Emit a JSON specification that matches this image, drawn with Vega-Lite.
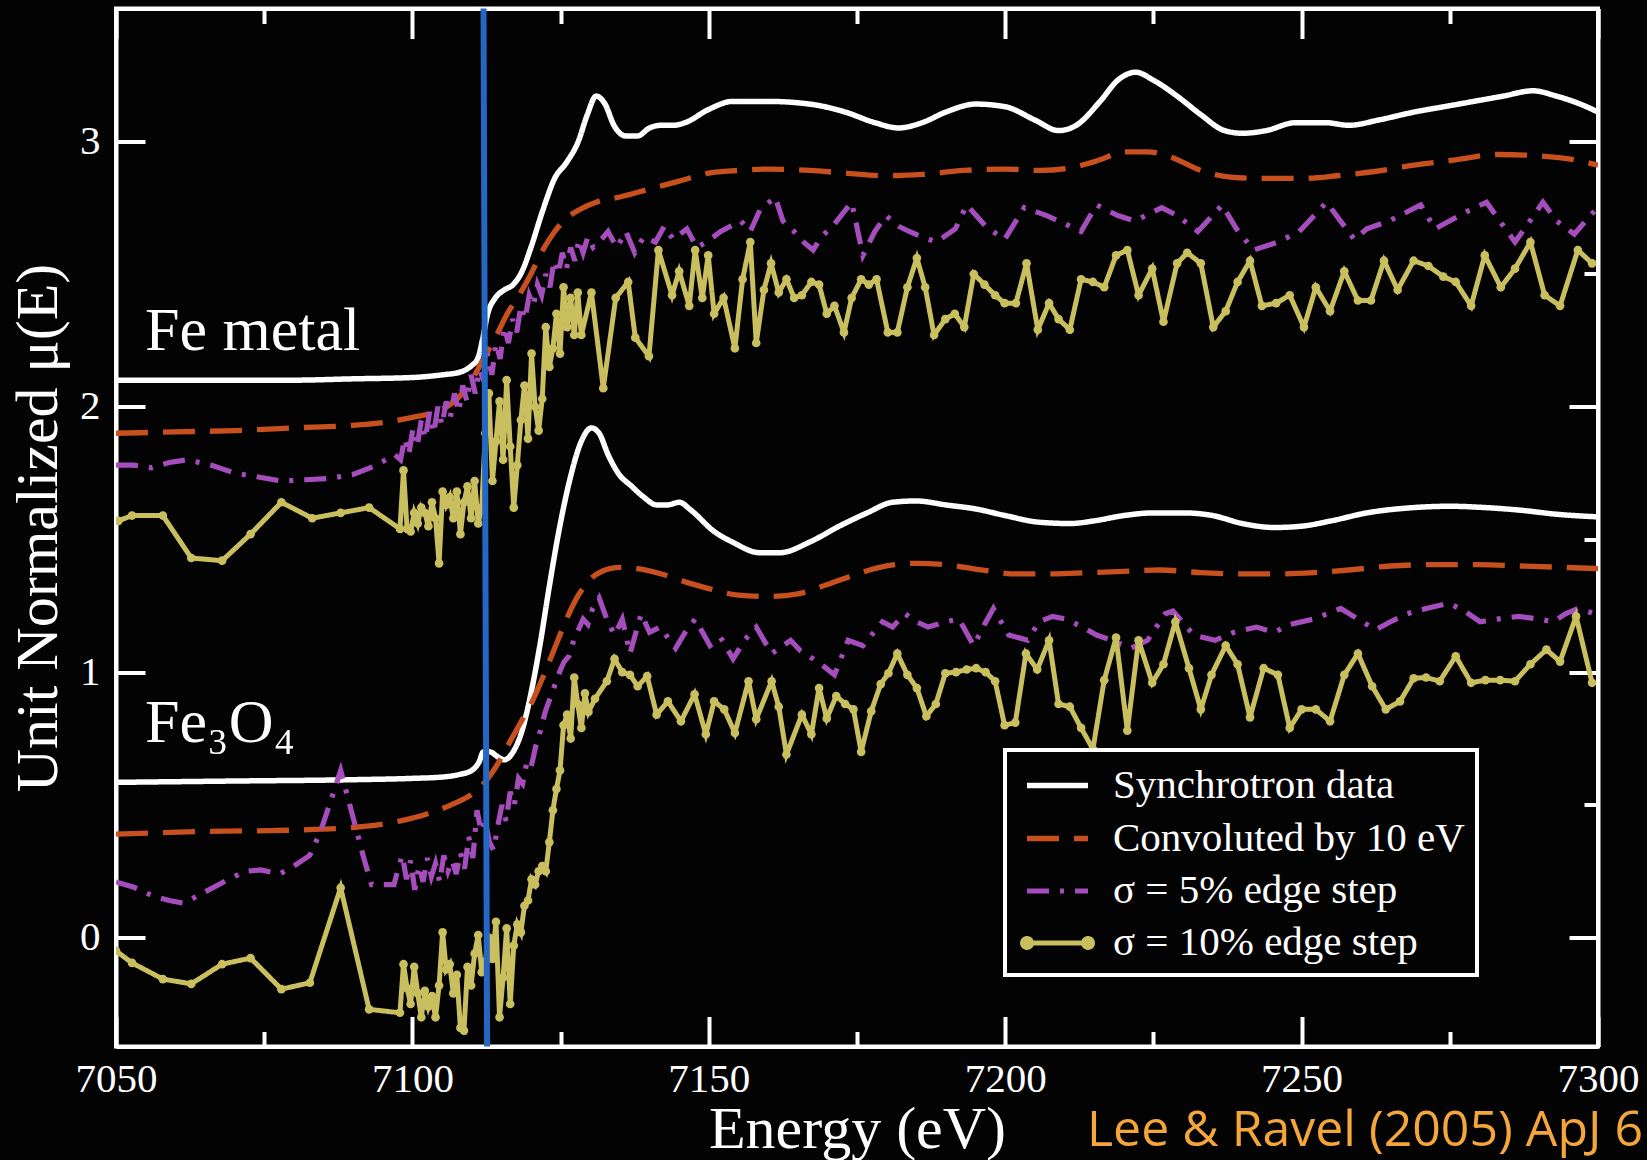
{
"$schema":"https://vega.github.io/schema/vega-lite/v6.json",
"width":1482,"height":1038,
"autosize":{"type":"none"},
"padding":{"left":116,"top":8.5,"right":49,"bottom":113.5},
"background":"#030303",
"title":{"text":"Lee & Ravel (2005) ApJ 6","orient":"bottom","anchor":"end","frame":"group","font":"Open Sans","fontSize":50,"fontWeight":"normal","color":"#f4a63b","baseline":"alphabetic","offset":0,"dx":45,"dy":-14},
"config":{
"view":{"stroke":"#ffffff","strokeWidth":4,"fill":"#030303"},
"axis":{"grid":false,"domainColor":"#ffffff","domainWidth":4,"tickColor":"#ffffff","tickWidth":4,"labelColor":"#ffffff","labelFont":"Liberation Serif","labelFontSize":41,"titleColor":"#ffffff","titleFont":"Liberation Serif","titleFontSize":60,"titleFontWeight":"normal"}
},
"datasets":{
"lab":[{"t":"Fe metal","E":7054.9,"mu":2.213},{"t":"Fe₃O₄","E":7054.9,"mu":0.738}],
"edge":[{"E":7112.0,"E2":7112.6,"y":3.5,"y2":-0.41}],
"c":[
{"g":"m","s":"A","E":7050,"mu":2.10},{"g":"m","s":"A","E":7060,"mu":2.10},{"g":"m","s":"A","E":7070,"mu":2.10},{"g":"m","s":"A","E":7080,"mu":2.10},{"g":"m","s":"A","E":7090,"mu":2.105},{"g":"m","s":"A","E":7100,"mu":2.11},{"g":"m","s":"A","E":7105,"mu":2.12},{"g":"m","s":"A","E":7108,"mu":2.13},{"g":"m","s":"A","E":7110,"mu":2.155},{"g":"m","s":"A","E":7111,"mu":2.18},{"g":"m","s":"A","E":7111.8,"mu":2.25},{"g":"m","s":"A","E":7112.7,"mu":2.35},{"g":"m","s":"A","E":7114,"mu":2.41},{"g":"m","s":"A","E":7115.5,"mu":2.44},{"g":"m","s":"A","E":7117,"mu":2.46},{"g":"m","s":"A","E":7118.5,"mu":2.51},{"g":"m","s":"A","E":7120,"mu":2.60},{"g":"m","s":"A","E":7122,"mu":2.74},{"g":"m","s":"A","E":7124,"mu":2.86},{"g":"m","s":"A","E":7126,"mu":2.92},{"g":"m","s":"A","E":7128,"mu":3.0},{"g":"m","s":"A","E":7129.5,"mu":3.10},{"g":"m","s":"A","E":7131,"mu":3.17},{"g":"m","s":"A","E":7132.5,"mu":3.14},{"g":"m","s":"A","E":7134,"mu":3.06},{"g":"m","s":"A","E":7136,"mu":3.02},{"g":"m","s":"A","E":7138,"mu":3.02},{"g":"m","s":"A","E":7140,"mu":3.05},{"g":"m","s":"A","E":7142,"mu":3.06},{"g":"m","s":"A","E":7144,"mu":3.06},{"g":"m","s":"A","E":7146,"mu":3.07},{"g":"m","s":"A","E":7150,"mu":3.12},{"g":"m","s":"A","E":7154,"mu":3.15},{"g":"m","s":"A","E":7160,"mu":3.15},{"g":"m","s":"A","E":7167,"mu":3.14},{"g":"m","s":"A","E":7173,"mu":3.11},{"g":"m","s":"A","E":7178,"mu":3.07},{"g":"m","s":"A","E":7182,"mu":3.05},{"g":"m","s":"A","E":7186,"mu":3.07},{"g":"m","s":"A","E":7190,"mu":3.11},{"g":"m","s":"A","E":7195,"mu":3.14},{"g":"m","s":"A","E":7200,"mu":3.13},{"g":"m","s":"A","E":7205,"mu":3.08},{"g":"m","s":"A","E":7209,"mu":3.04},{"g":"m","s":"A","E":7212,"mu":3.06},{"g":"m","s":"A","E":7216,"mu":3.15},{"g":"m","s":"A","E":7219,"mu":3.23},{"g":"m","s":"A","E":7222,"mu":3.26},{"g":"m","s":"A","E":7225,"mu":3.23},{"g":"m","s":"A","E":7229,"mu":3.17},{"g":"m","s":"A","E":7233,"mu":3.10},{"g":"m","s":"A","E":7237,"mu":3.04},{"g":"m","s":"A","E":7240,"mu":3.03},{"g":"m","s":"A","E":7244,"mu":3.04},{"g":"m","s":"A","E":7249,"mu":3.07},{"g":"m","s":"A","E":7254,"mu":3.07},{"g":"m","s":"A","E":7258,"mu":3.06},{"g":"m","s":"A","E":7263,"mu":3.08},{"g":"m","s":"A","E":7269,"mu":3.11},{"g":"m","s":"A","E":7274,"mu":3.13},{"g":"m","s":"A","E":7279,"mu":3.15},{"g":"m","s":"A","E":7284,"mu":3.17},{"g":"m","s":"A","E":7289,"mu":3.19},{"g":"m","s":"A","E":7293,"mu":3.17},{"g":"m","s":"A","E":7297,"mu":3.14},{"g":"m","s":"A","E":7300,"mu":3.11},
{"g":"m","s":"B","E":7050,"mu":1.90},{"g":"m","s":"B","E":7060,"mu":1.905},{"g":"m","s":"B","E":7070,"mu":1.91},{"g":"m","s":"B","E":7080,"mu":1.92},{"g":"m","s":"B","E":7090,"mu":1.93},{"g":"m","s":"B","E":7095,"mu":1.94},{"g":"m","s":"B","E":7100,"mu":1.96},{"g":"m","s":"B","E":7105,"mu":1.99},{"g":"m","s":"B","E":7108,"mu":2.04},{"g":"m","s":"B","E":7110,"mu":2.10},{"g":"m","s":"B","E":7112,"mu":2.18},{"g":"m","s":"B","E":7114,"mu":2.26},{"g":"m","s":"B","E":7116,"mu":2.35},{"g":"m","s":"B","E":7118,"mu":2.42},{"g":"m","s":"B","E":7120,"mu":2.50},{"g":"m","s":"B","E":7122,"mu":2.59},{"g":"m","s":"B","E":7124,"mu":2.66},{"g":"m","s":"B","E":7126,"mu":2.71},{"g":"m","s":"B","E":7128,"mu":2.74},{"g":"m","s":"B","E":7131,"mu":2.77},{"g":"m","s":"B","E":7135,"mu":2.79},{"g":"m","s":"B","E":7140,"mu":2.82},{"g":"m","s":"B","E":7145,"mu":2.85},{"g":"m","s":"B","E":7150,"mu":2.88},{"g":"m","s":"B","E":7155,"mu":2.89},{"g":"m","s":"B","E":7160,"mu":2.895},{"g":"m","s":"B","E":7167,"mu":2.89},{"g":"m","s":"B","E":7173,"mu":2.88},{"g":"m","s":"B","E":7180,"mu":2.87},{"g":"m","s":"B","E":7186,"mu":2.875},{"g":"m","s":"B","E":7193,"mu":2.89},{"g":"m","s":"B","E":7200,"mu":2.895},{"g":"m","s":"B","E":7206,"mu":2.89},{"g":"m","s":"B","E":7211,"mu":2.90},{"g":"m","s":"B","E":7216,"mu":2.93},{"g":"m","s":"B","E":7220,"mu":2.96},{"g":"m","s":"B","E":7224,"mu":2.96},{"g":"m","s":"B","E":7228,"mu":2.94},{"g":"m","s":"B","E":7233,"mu":2.89},{"g":"m","s":"B","E":7238,"mu":2.865},{"g":"m","s":"B","E":7243,"mu":2.86},{"g":"m","s":"B","E":7250,"mu":2.86},{"g":"m","s":"B","E":7256,"mu":2.87},{"g":"m","s":"B","E":7262,"mu":2.885},{"g":"m","s":"B","E":7269,"mu":2.91},{"g":"m","s":"B","E":7276,"mu":2.93},{"g":"m","s":"B","E":7283,"mu":2.95},{"g":"m","s":"B","E":7290,"mu":2.945},{"g":"m","s":"B","E":7296,"mu":2.93},{"g":"m","s":"B","E":7300,"mu":2.91},
{"g":"o","s":"A","E":7050,"mu":0.585},{"g":"o","s":"A","E":7070,"mu":0.59},{"g":"o","s":"A","E":7090,"mu":0.595},{"g":"o","s":"A","E":7100,"mu":0.60},{"g":"o","s":"A","E":7105,"mu":0.605},{"g":"o","s":"A","E":7108,"mu":0.615},{"g":"o","s":"A","E":7110,"mu":0.63},{"g":"o","s":"A","E":7111.2,"mu":0.66},{"g":"o","s":"A","E":7112,"mu":0.70},{"g":"o","s":"A","E":7113,"mu":0.70},{"g":"o","s":"A","E":7114.5,"mu":0.68},{"g":"o","s":"A","E":7115.5,"mu":0.67},{"g":"o","s":"A","E":7117,"mu":0.70},{"g":"o","s":"A","E":7118.5,"mu":0.78},{"g":"o","s":"A","E":7120,"mu":0.92},{"g":"o","s":"A","E":7121.5,"mu":1.10},{"g":"o","s":"A","E":7123,"mu":1.31},{"g":"o","s":"A","E":7124.7,"mu":1.53},{"g":"o","s":"A","E":7126.5,"mu":1.72},{"g":"o","s":"A","E":7128.5,"mu":1.87},{"g":"o","s":"A","E":7130.2,"mu":1.92},{"g":"o","s":"A","E":7131.5,"mu":1.90},{"g":"o","s":"A","E":7133,"mu":1.82},{"g":"o","s":"A","E":7134.7,"mu":1.75},{"g":"o","s":"A","E":7137,"mu":1.70},{"g":"o","s":"A","E":7139,"mu":1.66},{"g":"o","s":"A","E":7141.2,"mu":1.63},{"g":"o","s":"A","E":7143,"mu":1.63},{"g":"o","s":"A","E":7145,"mu":1.64},{"g":"o","s":"A","E":7147,"mu":1.61},{"g":"o","s":"A","E":7150.9,"mu":1.53},{"g":"o","s":"A","E":7154,"mu":1.49},{"g":"o","s":"A","E":7158.6,"mu":1.45},{"g":"o","s":"A","E":7162,"mu":1.45},{"g":"o","s":"A","E":7167,"mu":1.49},{"g":"o","s":"A","E":7172,"mu":1.55},{"g":"o","s":"A","E":7176.7,"mu":1.60},{"g":"o","s":"A","E":7181,"mu":1.64},{"g":"o","s":"A","E":7185,"mu":1.645},{"g":"o","s":"A","E":7190,"mu":1.63},{"g":"o","s":"A","E":7195,"mu":1.615},{"g":"o","s":"A","E":7200,"mu":1.59},{"g":"o","s":"A","E":7205.7,"mu":1.565},{"g":"o","s":"A","E":7211,"mu":1.56},{"g":"o","s":"A","E":7215,"mu":1.57},{"g":"o","s":"A","E":7220,"mu":1.59},{"g":"o","s":"A","E":7225,"mu":1.60},{"g":"o","s":"A","E":7230,"mu":1.60},{"g":"o","s":"A","E":7235,"mu":1.59},{"g":"o","s":"A","E":7240,"mu":1.56},{"g":"o","s":"A","E":7245.4,"mu":1.545},{"g":"o","s":"A","E":7250,"mu":1.55},{"g":"o","s":"A","E":7255,"mu":1.57},{"g":"o","s":"A","E":7261,"mu":1.60},{"g":"o","s":"A","E":7268.9,"mu":1.62},{"g":"o","s":"A","E":7275,"mu":1.625},{"g":"o","s":"A","E":7281,"mu":1.62},{"g":"o","s":"A","E":7287,"mu":1.61},{"g":"o","s":"A","E":7293,"mu":1.595},{"g":"o","s":"A","E":7300,"mu":1.585},
{"g":"o","s":"B","E":7050,"mu":0.39},{"g":"o","s":"B","E":7065,"mu":0.40},{"g":"o","s":"B","E":7080,"mu":0.405},{"g":"o","s":"B","E":7090,"mu":0.415},{"g":"o","s":"B","E":7098,"mu":0.44},{"g":"o","s":"B","E":7103,"mu":0.47},{"g":"o","s":"B","E":7107,"mu":0.505},{"g":"o","s":"B","E":7110,"mu":0.54},{"g":"o","s":"B","E":7112,"mu":0.58},{"g":"o","s":"B","E":7114,"mu":0.64},{"g":"o","s":"B","E":7116,"mu":0.72},{"g":"o","s":"B","E":7118,"mu":0.80},{"g":"o","s":"B","E":7120,"mu":0.88},{"g":"o","s":"B","E":7122,"mu":0.98},{"g":"o","s":"B","E":7124,"mu":1.09},{"g":"o","s":"B","E":7126,"mu":1.20},{"g":"o","s":"B","E":7128,"mu":1.29},{"g":"o","s":"B","E":7130,"mu":1.35},{"g":"o","s":"B","E":7132,"mu":1.38},{"g":"o","s":"B","E":7135,"mu":1.395},{"g":"o","s":"B","E":7138,"mu":1.39},{"g":"o","s":"B","E":7142,"mu":1.37},{"g":"o","s":"B","E":7146,"mu":1.34},{"g":"o","s":"B","E":7150,"mu":1.315},{"g":"o","s":"B","E":7155,"mu":1.29},{"g":"o","s":"B","E":7160,"mu":1.285},{"g":"o","s":"B","E":7165,"mu":1.295},{"g":"o","s":"B","E":7170,"mu":1.33},{"g":"o","s":"B","E":7175,"mu":1.37},{"g":"o","s":"B","E":7180,"mu":1.40},{"g":"o","s":"B","E":7185,"mu":1.41},{"g":"o","s":"B","E":7190,"mu":1.405},{"g":"o","s":"B","E":7196,"mu":1.385},{"g":"o","s":"B","E":7202,"mu":1.37},{"g":"o","s":"B","E":7208,"mu":1.37},{"g":"o","s":"B","E":7214,"mu":1.375},{"g":"o","s":"B","E":7220,"mu":1.38},{"g":"o","s":"B","E":7226,"mu":1.385},{"g":"o","s":"B","E":7233,"mu":1.375},{"g":"o","s":"B","E":7240,"mu":1.37},{"g":"o","s":"B","E":7246,"mu":1.37},{"g":"o","s":"B","E":7252,"mu":1.375},{"g":"o","s":"B","E":7258,"mu":1.385},{"g":"o","s":"B","E":7265,"mu":1.40},{"g":"o","s":"B","E":7272,"mu":1.405},{"g":"o","s":"B","E":7280,"mu":1.405},{"g":"o","s":"B","E":7287,"mu":1.40},{"g":"o","s":"B","E":7294,"mu":1.395},{"g":"o","s":"B","E":7300,"mu":1.39},
{"g":"m","s":"C","E":7050,"mu":1.78},{"g":"m","s":"C","E":7053,"mu":1.78},{"g":"m","s":"C","E":7056,"mu":1.77},{"g":"m","s":"C","E":7059,"mu":1.79},{"g":"m","s":"C","E":7062,"mu":1.80},{"g":"m","s":"C","E":7066,"mu":1.78},{"g":"m","s":"C","E":7070,"mu":1.75},{"g":"m","s":"C","E":7074,"mu":1.735},{"g":"m","s":"C","E":7078,"mu":1.72},{"g":"m","s":"C","E":7082,"mu":1.725},{"g":"m","s":"C","E":7086,"mu":1.73},{"g":"m","s":"C","E":7090,"mu":1.745},{"g":"m","s":"C","E":7094,"mu":1.78},{"g":"m","s":"C","E":7097,"mu":1.82},{"g":"m","s":"C","E":7098,"mu":1.80},{"g":"m","s":"C","E":7098.7,"mu":1.88},{"g":"m","s":"C","E":7099.4,"mu":1.82},{"g":"m","s":"C","E":7100.1,"mu":1.92},{"g":"m","s":"C","E":7100.8,"mu":1.85},{"g":"m","s":"C","E":7101.5,"mu":1.95},{"g":"m","s":"C","E":7102.2,"mu":1.88},{"g":"m","s":"C","E":7102.9,"mu":1.98},{"g":"m","s":"C","E":7103.6,"mu":1.90},{"g":"m","s":"C","E":7104.3,"mu":2.00},{"g":"m","s":"C","E":7105,"mu":1.93},{"g":"m","s":"C","E":7105.7,"mu":2.02},{"g":"m","s":"C","E":7106.4,"mu":1.96},{"g":"m","s":"C","E":7107.1,"mu":2.05},{"g":"m","s":"C","E":7107.8,"mu":1.98},{"g":"m","s":"C","E":7108.5,"mu":2.08},{"g":"m","s":"C","E":7109.2,"mu":2.02},{"g":"m","s":"C","E":7109.9,"mu":2.12},{"g":"m","s":"C","E":7110.6,"mu":2.05},{"g":"m","s":"C","E":7111.3,"mu":2.14},{"g":"m","s":"C","E":7112,"mu":2.10},{"g":"m","s":"C","E":7112.7,"mu":2.20},{"g":"m","s":"C","E":7113.4,"mu":2.12},{"g":"m","s":"C","E":7114.1,"mu":2.24},{"g":"m","s":"C","E":7114.8,"mu":2.18},{"g":"m","s":"C","E":7115.5,"mu":2.30},{"g":"m","s":"C","E":7116.2,"mu":2.24},{"g":"m","s":"C","E":7116.9,"mu":2.33},{"g":"m","s":"C","E":7117.6,"mu":2.28},{"g":"m","s":"C","E":7118.3,"mu":2.38},{"g":"m","s":"C","E":7119,"mu":2.33},{"g":"m","s":"C","E":7119.7,"mu":2.42},{"g":"m","s":"C","E":7120.4,"mu":2.38},{"g":"m","s":"C","E":7121.1,"mu":2.46},{"g":"m","s":"C","E":7121.8,"mu":2.42},{"g":"m","s":"C","E":7122.5,"mu":2.50},{"g":"m","s":"C","E":7123.2,"mu":2.45},{"g":"m","s":"C","E":7123.9,"mu":2.55},{"g":"m","s":"C","E":7124.6,"mu":2.50},{"g":"m","s":"C","E":7125.3,"mu":2.58},{"g":"m","s":"C","E":7126,"mu":2.52},{"g":"m","s":"C","E":7126.7,"mu":2.60},{"g":"m","s":"C","E":7127.4,"mu":2.55},{"g":"m","s":"C","E":7128.1,"mu":2.63},{"g":"m","s":"C","E":7128.8,"mu":2.58},{"g":"m","s":"C","E":7129.6,"mu":2.64},{"g":"m","s":"C","E":7130.5,"mu":2.60},{"g":"m","s":"C","E":7131.5,"mu":2.62},{"g":"m","s":"C","E":7133,"mu":2.66},{"g":"m","s":"C","E":7134.5,"mu":2.60},{"g":"m","s":"C","E":7136,"mu":2.66},{"g":"m","s":"C","E":7137.5,"mu":2.58},{"g":"m","s":"C","E":7139,"mu":2.64},{"g":"m","s":"C","E":7141,"mu":2.62},{"g":"m","s":"C","E":7142.5,"mu":2.68},{"g":"m","s":"C","E":7144,"mu":2.63},{"g":"m","s":"C","E":7146.3,"mu":2.67},{"g":"m","s":"C","E":7148,"mu":2.60},{"g":"m","s":"C","E":7149.6,"mu":2.62},{"g":"m","s":"C","E":7152,"mu":2.66},{"g":"m","s":"C","E":7155.4,"mu":2.70},{"g":"m","s":"C","E":7157,"mu":2.66},{"g":"m","s":"C","E":7158.6,"mu":2.74},{"g":"m","s":"C","E":7161.2,"mu":2.79},{"g":"m","s":"C","E":7162.5,"mu":2.70},{"g":"m","s":"C","E":7164.4,"mu":2.66},{"g":"m","s":"C","E":7166,"mu":2.62},{"g":"m","s":"C","E":7167.6,"mu":2.59},{"g":"m","s":"C","E":7169,"mu":2.64},{"g":"m","s":"C","E":7170.9,"mu":2.68},{"g":"m","s":"C","E":7174.1,"mu":2.77},{"g":"m","s":"C","E":7176,"mu":2.57},{"g":"m","s":"C","E":7178,"mu":2.66},{"g":"m","s":"C","E":7179.9,"mu":2.72},{"g":"m","s":"C","E":7182,"mu":2.68},{"g":"m","s":"C","E":7183.8,"mu":2.66},{"g":"m","s":"C","E":7186,"mu":2.64},{"g":"m","s":"C","E":7188.4,"mu":2.62},{"g":"m","s":"C","E":7191.6,"mu":2.67},{"g":"m","s":"C","E":7193.5,"mu":2.76},{"g":"m","s":"C","E":7196.7,"mu":2.68},{"g":"m","s":"C","E":7199.9,"mu":2.63},{"g":"m","s":"C","E":7203.2,"mu":2.75},{"g":"m","s":"C","E":7207,"mu":2.72},{"g":"m","s":"C","E":7210,"mu":2.69},{"g":"m","s":"C","E":7212.8,"mu":2.66},{"g":"m","s":"C","E":7215.4,"mu":2.76},{"g":"m","s":"C","E":7219,"mu":2.72},{"g":"m","s":"C","E":7221.9,"mu":2.70},{"g":"m","s":"C","E":7226.4,"mu":2.75},{"g":"m","s":"C","E":7229,"mu":2.72},{"g":"m","s":"C","E":7232.5,"mu":2.66},{"g":"m","s":"C","E":7236.6,"mu":2.76},{"g":"m","s":"C","E":7239,"mu":2.67},{"g":"m","s":"C","E":7241.9,"mu":2.59},{"g":"m","s":"C","E":7246,"mu":2.62},{"g":"m","s":"C","E":7249.6,"mu":2.66},{"g":"m","s":"C","E":7254.2,"mu":2.77},{"g":"m","s":"C","E":7258.9,"mu":2.63},{"g":"m","s":"C","E":7261,"mu":2.67},{"g":"m","s":"C","E":7264.8,"mu":2.70},{"g":"m","s":"C","E":7270.1,"mu":2.76},{"g":"m","s":"C","E":7272.5,"mu":2.67},{"g":"m","s":"C","E":7278.3,"mu":2.74},{"g":"m","s":"C","E":7281.2,"mu":2.77},{"g":"m","s":"C","E":7286,"mu":2.62},{"g":"m","s":"C","E":7290.7,"mu":2.77},{"g":"m","s":"C","E":7293,"mu":2.70},{"g":"m","s":"C","E":7296,"mu":2.65},{"g":"m","s":"C","E":7299.5,"mu":2.74},
{"g":"o","s":"C","E":7050,"mu":0.21},{"g":"o","s":"C","E":7053,"mu":0.19},{"g":"o","s":"C","E":7056.3,"mu":0.156},{"g":"o","s":"C","E":7059,"mu":0.14},{"g":"o","s":"C","E":7061.4,"mu":0.13},{"g":"o","s":"C","E":7064,"mu":0.16},{"g":"o","s":"C","E":7066.5,"mu":0.19},{"g":"o","s":"C","E":7069,"mu":0.22},{"g":"o","s":"C","E":7071.8,"mu":0.25},{"g":"o","s":"C","E":7074.5,"mu":0.255},{"g":"o","s":"C","E":7077.6,"mu":0.24},{"g":"o","s":"C","E":7080,"mu":0.27},{"g":"o","s":"C","E":7082.7,"mu":0.31},{"g":"o","s":"C","E":7084.5,"mu":0.40},{"g":"o","s":"C","E":7086.6,"mu":0.54},{"g":"o","s":"C","E":7087.9,"mu":0.63},{"g":"o","s":"C","E":7089.2,"mu":0.52},{"g":"o","s":"C","E":7090.5,"mu":0.41},{"g":"o","s":"C","E":7091.8,"mu":0.30},{"g":"o","s":"C","E":7093.1,"mu":0.20},{"g":"o","s":"C","E":7095,"mu":0.20},{"g":"o","s":"C","E":7096.9,"mu":0.20},{"g":"o","s":"C","E":7097.6,"mu":0.26},{"g":"o","s":"C","E":7098.3,"mu":0.31},{"g":"o","s":"C","E":7099,"mu":0.22},{"g":"o","s":"C","E":7099.7,"mu":0.29},{"g":"o","s":"C","E":7100.4,"mu":0.18},{"g":"o","s":"C","E":7101.1,"mu":0.27},{"g":"o","s":"C","E":7101.8,"mu":0.21},{"g":"o","s":"C","E":7102.5,"mu":0.30},{"g":"o","s":"C","E":7103.2,"mu":0.23},{"g":"o","s":"C","E":7103.9,"mu":0.28},{"g":"o","s":"C","E":7104.6,"mu":0.21},{"g":"o","s":"C","E":7105.3,"mu":0.31},{"g":"o","s":"C","E":7106,"mu":0.25},{"g":"o","s":"C","E":7106.7,"mu":0.29},{"g":"o","s":"C","E":7107.4,"mu":0.24},{"g":"o","s":"C","E":7108.1,"mu":0.32},{"g":"o","s":"C","E":7108.8,"mu":0.26},{"g":"o","s":"C","E":7109.5,"mu":0.38},{"g":"o","s":"C","E":7110.2,"mu":0.30},{"g":"o","s":"C","E":7110.9,"mu":0.48},{"g":"o","s":"C","E":7111.6,"mu":0.40},{"g":"o","s":"C","E":7112.3,"mu":0.44},{"g":"o","s":"C","E":7113,"mu":0.36},{"g":"o","s":"C","E":7113.7,"mu":0.33},{"g":"o","s":"C","E":7114.4,"mu":0.42},{"g":"o","s":"C","E":7115.1,"mu":0.50},{"g":"o","s":"C","E":7115.8,"mu":0.44},{"g":"o","s":"C","E":7116.5,"mu":0.55},{"g":"o","s":"C","E":7117.2,"mu":0.50},{"g":"o","s":"C","E":7117.9,"mu":0.60},{"g":"o","s":"C","E":7118.6,"mu":0.58},{"g":"o","s":"C","E":7119.3,"mu":0.66},{"g":"o","s":"C","E":7120,"mu":0.64},{"g":"o","s":"C","E":7120.8,"mu":0.72},{"g":"o","s":"C","E":7121.6,"mu":0.78},{"g":"o","s":"C","E":7122.4,"mu":0.85},{"g":"o","s":"C","E":7123.2,"mu":0.90},{"g":"o","s":"C","E":7124,"mu":0.95},{"g":"o","s":"C","E":7124.8,"mu":1.00},{"g":"o","s":"C","E":7125.6,"mu":1.04},{"g":"o","s":"C","E":7126.4,"mu":1.06},{"g":"o","s":"C","E":7127.2,"mu":1.12},{"g":"o","s":"C","E":7128,"mu":1.16},{"g":"o","s":"C","E":7128.8,"mu":1.20},{"g":"o","s":"C","E":7129.6,"mu":1.18},{"g":"o","s":"C","E":7130.4,"mu":1.24},{"g":"o","s":"C","E":7131.5,"mu":1.28},{"g":"o","s":"C","E":7132.8,"mu":1.20},{"g":"o","s":"C","E":7134.1,"mu":1.14},{"g":"o","s":"C","E":7135.4,"mu":1.20},{"g":"o","s":"C","E":7136.7,"mu":1.07},{"g":"o","s":"C","E":7138.6,"mu":1.22},{"g":"o","s":"C","E":7140,"mu":1.15},{"g":"o","s":"C","E":7141.8,"mu":1.17},{"g":"o","s":"C","E":7144.4,"mu":1.09},{"g":"o","s":"C","E":7146,"mu":1.15},{"g":"o","s":"C","E":7147.7,"mu":1.20},{"g":"o","s":"C","E":7150.2,"mu":1.10},{"g":"o","s":"C","E":7152,"mu":1.13},{"g":"o","s":"C","E":7154.1,"mu":1.05},{"g":"o","s":"C","E":7156,"mu":1.12},{"g":"o","s":"C","E":7158,"mu":1.17},{"g":"o","s":"C","E":7160.6,"mu":1.07},{"g":"o","s":"C","E":7163.8,"mu":1.12},{"g":"o","s":"C","E":7165.5,"mu":1.08},{"g":"o","s":"C","E":7167.6,"mu":1.05},{"g":"o","s":"C","E":7169.5,"mu":1.02},{"g":"o","s":"C","E":7171.2,"mu":0.99},{"g":"o","s":"C","E":7173.5,"mu":1.12},{"g":"o","s":"C","E":7176,"mu":1.10},{"g":"o","s":"C","E":7179.3,"mu":1.19},{"g":"o","s":"C","E":7181,"mu":1.17},{"g":"o","s":"C","E":7183.1,"mu":1.22},{"g":"o","s":"C","E":7185,"mu":1.19},{"g":"o","s":"C","E":7187,"mu":1.17},{"g":"o","s":"C","E":7190,"mu":1.19},{"g":"o","s":"C","E":7192.2,"mu":1.20},{"g":"o","s":"C","E":7194.7,"mu":1.10},{"g":"o","s":"C","E":7196.5,"mu":1.18},{"g":"o","s":"C","E":7198,"mu":1.24},{"g":"o","s":"C","E":7200.6,"mu":1.14},{"g":"o","s":"C","E":7203.8,"mu":1.12},{"g":"o","s":"C","E":7205.7,"mu":1.19},{"g":"o","s":"C","E":7208,"mu":1.21},{"g":"o","s":"C","E":7210.3,"mu":1.20},{"g":"o","s":"C","E":7213,"mu":1.17},{"g":"o","s":"C","E":7215.4,"mu":1.14},{"g":"o","s":"C","E":7218,"mu":1.12},{"g":"o","s":"C","E":7221.2,"mu":1.09},{"g":"o","s":"C","E":7224,"mu":1.12},{"g":"o","s":"C","E":7227,"mu":1.22},{"g":"o","s":"C","E":7228.3,"mu":1.23},{"g":"o","s":"C","E":7231.8,"mu":1.14},{"g":"o","s":"C","E":7235.4,"mu":1.12},{"g":"o","s":"C","E":7238.5,"mu":1.15},{"g":"o","s":"C","E":7242.4,"mu":1.17},{"g":"o","s":"C","E":7245.4,"mu":1.15},{"g":"o","s":"C","E":7248,"mu":1.18},{"g":"o","s":"C","E":7252,"mu":1.20},{"g":"o","s":"C","E":7256.6,"mu":1.24},{"g":"o","s":"C","E":7259.5,"mu":1.20},{"g":"o","s":"C","E":7262.5,"mu":1.16},{"g":"o","s":"C","E":7265,"mu":1.19},{"g":"o","s":"C","E":7267.8,"mu":1.22},{"g":"o","s":"C","E":7271,"mu":1.24},{"g":"o","s":"C","E":7274.8,"mu":1.26},{"g":"o","s":"C","E":7277.5,"mu":1.23},{"g":"o","s":"C","E":7280.1,"mu":1.19},{"g":"o","s":"C","E":7283,"mu":1.20},{"g":"o","s":"C","E":7286.6,"mu":1.21},{"g":"o","s":"C","E":7290,"mu":1.20},{"g":"o","s":"C","E":7292.5,"mu":1.19},{"g":"o","s":"C","E":7294.5,"mu":1.22},{"g":"o","s":"C","E":7296.6,"mu":1.24},{"g":"o","s":"C","E":7299.5,"mu":1.22},
{"g":"m","s":"D","E":7050.4,"mu":1.57},{"g":"m","s":"D","E":7052.7,"mu":1.59},{"g":"m","s":"D","E":7057.9,"mu":1.59},{"g":"m","s":"D","E":7062.7,"mu":1.43},{"g":"m","s":"D","E":7067.9,"mu":1.42},{"g":"m","s":"D","E":7072.7,"mu":1.52},{"g":"m","s":"D","E":7077.9,"mu":1.64},{"g":"m","s":"D","E":7083.1,"mu":1.58},{"g":"m","s":"D","E":7087.9,"mu":1.60},{"g":"m","s":"D","E":7092.7,"mu":1.62},{"g":"m","s":"D","E":7097.9,"mu":1.54},{"g":"m","s":"D","E":7098.5,"mu":1.76},{"g":"m","s":"D","E":7099.1,"mu":1.54},{"g":"m","s":"D","E":7099.7,"mu":1.53},{"g":"m","s":"D","E":7100.3,"mu":1.60},{"g":"m","s":"D","E":7100.9,"mu":1.56},{"g":"m","s":"D","E":7101.5,"mu":1.62},{"g":"m","s":"D","E":7102.1,"mu":1.60},{"g":"m","s":"D","E":7102.7,"mu":1.55},{"g":"m","s":"D","E":7103.3,"mu":1.64},{"g":"m","s":"D","E":7103.9,"mu":1.58},{"g":"m","s":"D","E":7104.5,"mu":1.41},{"g":"m","s":"D","E":7105.1,"mu":1.68},{"g":"m","s":"D","E":7105.7,"mu":1.63},{"g":"m","s":"D","E":7106.3,"mu":1.66},{"g":"m","s":"D","E":7106.9,"mu":1.58},{"g":"m","s":"D","E":7107.5,"mu":1.68},{"g":"m","s":"D","E":7108.1,"mu":1.52},{"g":"m","s":"D","E":7108.7,"mu":1.64},{"g":"m","s":"D","E":7109.3,"mu":1.70},{"g":"m","s":"D","E":7109.9,"mu":1.58},{"g":"m","s":"D","E":7110.5,"mu":1.72},{"g":"m","s":"D","E":7111.1,"mu":1.56},{"g":"m","s":"D","E":7111.7,"mu":1.62},{"g":"m","s":"D","E":7112.3,"mu":1.90},{"g":"m","s":"D","E":7112.9,"mu":2.05},{"g":"m","s":"D","E":7113.5,"mu":1.72},{"g":"m","s":"D","E":7114.1,"mu":1.87},{"g":"m","s":"D","E":7114.7,"mu":2.02},{"g":"m","s":"D","E":7115.3,"mu":1.80},{"g":"m","s":"D","E":7115.9,"mu":2.10},{"g":"m","s":"D","E":7116.5,"mu":1.85},{"g":"m","s":"D","E":7117.1,"mu":1.62},{"g":"m","s":"D","E":7117.7,"mu":1.78},{"g":"m","s":"D","E":7118.3,"mu":1.95},{"g":"m","s":"D","E":7118.9,"mu":2.08},{"g":"m","s":"D","E":7119.5,"mu":1.88},{"g":"m","s":"D","E":7120.1,"mu":2.20},{"g":"m","s":"D","E":7120.7,"mu":2.00},{"g":"m","s":"D","E":7121.3,"mu":1.91},{"g":"m","s":"D","E":7121.9,"mu":2.03},{"g":"m","s":"D","E":7122.5,"mu":2.30},{"g":"m","s":"D","E":7123.1,"mu":2.15},{"g":"m","s":"D","E":7123.7,"mu":2.22},{"g":"m","s":"D","E":7124.3,"mu":2.35},{"g":"m","s":"D","E":7124.9,"mu":2.20},{"g":"m","s":"D","E":7125.5,"mu":2.45},{"g":"m","s":"D","E":7126.1,"mu":2.30},{"g":"m","s":"D","E":7126.7,"mu":2.41},{"g":"m","s":"D","E":7127.3,"mu":2.27},{"g":"m","s":"D","E":7127.9,"mu":2.43},{"g":"m","s":"D","E":7128.5,"mu":2.27},{"g":"m","s":"D","E":7130.2,"mu":2.43},{"g":"m","s":"D","E":7132.2,"mu":2.07},{"g":"m","s":"D","E":7134.3,"mu":2.41},{"g":"m","s":"D","E":7136.4,"mu":2.47},{"g":"m","s":"D","E":7137.6,"mu":2.26},{"g":"m","s":"D","E":7139.9,"mu":2.19},{"g":"m","s":"D","E":7141.5,"mu":2.59},{"g":"m","s":"D","E":7143.8,"mu":2.42},{"g":"m","s":"D","E":7145,"mu":2.51},{"g":"m","s":"D","E":7146.7,"mu":2.38},{"g":"m","s":"D","E":7147.7,"mu":2.59},{"g":"m","s":"D","E":7148.9,"mu":2.41},{"g":"m","s":"D","E":7149.9,"mu":2.57},{"g":"m","s":"D","E":7150.9,"mu":2.35},{"g":"m","s":"D","E":7152.5,"mu":2.41},{"g":"m","s":"D","E":7154.4,"mu":2.22},{"g":"m","s":"D","E":7155.7,"mu":2.48},{"g":"m","s":"D","E":7157,"mu":2.62},{"g":"m","s":"D","E":7158,"mu":2.24},{"g":"m","s":"D","E":7159.3,"mu":2.44},{"g":"m","s":"D","E":7160.5,"mu":2.54},{"g":"m","s":"D","E":7161.8,"mu":2.43},{"g":"m","s":"D","E":7163.1,"mu":2.48},{"g":"m","s":"D","E":7164.4,"mu":2.41},{"g":"m","s":"D","E":7165.7,"mu":2.42},{"g":"m","s":"D","E":7167.3,"mu":2.47},{"g":"m","s":"D","E":7168.6,"mu":2.46},{"g":"m","s":"D","E":7169.9,"mu":2.35},{"g":"m","s":"D","E":7171.2,"mu":2.38},{"g":"m","s":"D","E":7172.8,"mu":2.28},{"g":"m","s":"D","E":7174.1,"mu":2.41},{"g":"m","s":"D","E":7175.7,"mu":2.48},{"g":"m","s":"D","E":7177,"mu":2.46},{"g":"m","s":"D","E":7178.3,"mu":2.48},{"g":"m","s":"D","E":7180.2,"mu":2.28},{"g":"m","s":"D","E":7181.8,"mu":2.28},{"g":"m","s":"D","E":7183.5,"mu":2.45},{"g":"m","s":"D","E":7185.1,"mu":2.56},{"g":"m","s":"D","E":7186.5,"mu":2.45},{"g":"m","s":"D","E":7188,"mu":2.27},{"g":"m","s":"D","E":7189.9,"mu":2.33},{"g":"m","s":"D","E":7191.5,"mu":2.35},{"g":"m","s":"D","E":7193.1,"mu":2.30},{"g":"m","s":"D","E":7194.7,"mu":2.50},{"g":"m","s":"D","E":7196.5,"mu":2.46},{"g":"m","s":"D","E":7198.3,"mu":2.42},{"g":"m","s":"D","E":7199.9,"mu":2.39},{"g":"m","s":"D","E":7201.8,"mu":2.39},{"g":"m","s":"D","E":7203.6,"mu":2.54},{"g":"m","s":"D","E":7205.5,"mu":2.29},{"g":"m","s":"D","E":7207.4,"mu":2.39},{"g":"m","s":"D","E":7209,"mu":2.33},{"g":"m","s":"D","E":7210.9,"mu":2.29},{"g":"m","s":"D","E":7212.8,"mu":2.48},{"g":"m","s":"D","E":7214.8,"mu":2.47},{"g":"m","s":"D","E":7216.7,"mu":2.45},{"g":"m","s":"D","E":7218.7,"mu":2.57},{"g":"m","s":"D","E":7220.6,"mu":2.59},{"g":"m","s":"D","E":7222.5,"mu":2.42},{"g":"m","s":"D","E":7224.8,"mu":2.52},{"g":"m","s":"D","E":7226.7,"mu":2.32},{"g":"m","s":"D","E":7229,"mu":2.54},{"g":"m","s":"D","E":7230.7,"mu":2.58},{"g":"m","s":"D","E":7233,"mu":2.54},{"g":"m","s":"D","E":7235.1,"mu":2.30},{"g":"m","s":"D","E":7237.2,"mu":2.36},{"g":"m","s":"D","E":7239.2,"mu":2.47},{"g":"m","s":"D","E":7241.3,"mu":2.55},{"g":"m","s":"D","E":7243.3,"mu":2.38},{"g":"m","s":"D","E":7245.7,"mu":2.39},{"g":"m","s":"D","E":7248,"mu":2.42},{"g":"m","s":"D","E":7250.4,"mu":2.30},{"g":"m","s":"D","E":7252.4,"mu":2.45},{"g":"m","s":"D","E":7254.8,"mu":2.36},{"g":"m","s":"D","E":7257.2,"mu":2.51},{"g":"m","s":"D","E":7259.5,"mu":2.40},{"g":"m","s":"D","E":7261.7,"mu":2.40},{"g":"m","s":"D","E":7263.9,"mu":2.55},{"g":"m","s":"D","E":7266.2,"mu":2.44},{"g":"m","s":"D","E":7268.9,"mu":2.55},{"g":"m","s":"D","E":7271.4,"mu":2.53},{"g":"m","s":"D","E":7273.9,"mu":2.49},{"g":"m","s":"D","E":7276,"mu":2.47},{"g":"m","s":"D","E":7278.6,"mu":2.38},{"g":"m","s":"D","E":7280.9,"mu":2.57},{"g":"m","s":"D","E":7283.6,"mu":2.45},{"g":"m","s":"D","E":7286,"mu":2.52},{"g":"m","s":"D","E":7288.6,"mu":2.62},{"g":"m","s":"D","E":7291,"mu":2.42},{"g":"m","s":"D","E":7293.6,"mu":2.38},{"g":"m","s":"D","E":7296.6,"mu":2.59},{"g":"m","s":"D","E":7299,"mu":2.54},
{"g":"o","s":"D","E":7050,"mu":-0.05},{"g":"o","s":"D","E":7052.7,"mu":-0.095},{"g":"o","s":"D","E":7057.9,"mu":-0.156},{"g":"o","s":"D","E":7062.7,"mu":-0.174},{"g":"o","s":"D","E":7067.9,"mu":-0.10},{"g":"o","s":"D","E":7072.7,"mu":-0.077},{"g":"o","s":"D","E":7077.9,"mu":-0.194},{"g":"o","s":"D","E":7082.7,"mu":-0.17},{"g":"o","s":"D","E":7087.9,"mu":0.188},{"g":"o","s":"D","E":7092.7,"mu":-0.27},{"g":"o","s":"D","E":7097.9,"mu":-0.283},{"g":"o","s":"D","E":7098.5,"mu":-0.10},{"g":"o","s":"D","E":7099.1,"mu":-0.19},{"g":"o","s":"D","E":7099.7,"mu":-0.25},{"g":"o","s":"D","E":7100.3,"mu":-0.11},{"g":"o","s":"D","E":7100.9,"mu":-0.21},{"g":"o","s":"D","E":7101.5,"mu":-0.30},{"g":"o","s":"D","E":7102.1,"mu":-0.20},{"g":"o","s":"D","E":7102.7,"mu":-0.26},{"g":"o","s":"D","E":7103.3,"mu":-0.22},{"g":"o","s":"D","E":7103.9,"mu":-0.30},{"g":"o","s":"D","E":7104.5,"mu":-0.18},{"g":"o","s":"D","E":7105.1,"mu":0.02},{"g":"o","s":"D","E":7105.7,"mu":-0.12},{"g":"o","s":"D","E":7106.3,"mu":-0.10},{"g":"o","s":"D","E":7106.9,"mu":-0.21},{"g":"o","s":"D","E":7107.5,"mu":-0.14},{"g":"o","s":"D","E":7108.1,"mu":-0.34},{"g":"o","s":"D","E":7108.7,"mu":-0.35},{"g":"o","s":"D","E":7109.3,"mu":-0.11},{"g":"o","s":"D","E":7109.9,"mu":-0.18},{"g":"o","s":"D","E":7110.5,"mu":-0.06},{"g":"o","s":"D","E":7111.1,"mu":0.01},{"g":"o","s":"D","E":7111.7,"mu":-0.13},{"g":"o","s":"D","E":7112.3,"mu":-0.09},{"g":"o","s":"D","E":7112.9,"mu":0.0},{"g":"o","s":"D","E":7113.5,"mu":-0.08},{"g":"o","s":"D","E":7114.1,"mu":0.06},{"g":"o","s":"D","E":7114.7,"mu":-0.30},{"g":"o","s":"D","E":7115.3,"mu":-0.15},{"g":"o","s":"D","E":7115.9,"mu":0.035},{"g":"o","s":"D","E":7116.5,"mu":-0.25},{"g":"o","s":"D","E":7117.1,"mu":-0.03},{"g":"o","s":"D","E":7117.7,"mu":0.05},{"g":"o","s":"D","E":7118.3,"mu":0.02},{"g":"o","s":"D","E":7118.9,"mu":0.12},{"g":"o","s":"D","E":7119.5,"mu":0.14},{"g":"o","s":"D","E":7120.1,"mu":0.22},{"g":"o","s":"D","E":7120.7,"mu":0.20},{"g":"o","s":"D","E":7121.3,"mu":0.25},{"g":"o","s":"D","E":7121.9,"mu":0.27},{"g":"o","s":"D","E":7122.5,"mu":0.25},{"g":"o","s":"D","E":7123.1,"mu":0.36},{"g":"o","s":"D","E":7123.7,"mu":0.48},{"g":"o","s":"D","E":7124.3,"mu":0.56},{"g":"o","s":"D","E":7124.9,"mu":0.63},{"g":"o","s":"D","E":7125.5,"mu":0.80},{"g":"o","s":"D","E":7126.1,"mu":0.84},{"g":"o","s":"D","E":7126.7,"mu":0.75},{"g":"o","s":"D","E":7127.3,"mu":0.98},{"g":"o","s":"D","E":7127.9,"mu":0.88},{"g":"o","s":"D","E":7128.5,"mu":0.79},{"g":"o","s":"D","E":7129.1,"mu":0.92},{"g":"o","s":"D","E":7129.7,"mu":0.85},{"g":"o","s":"D","E":7130.8,"mu":0.90},{"g":"o","s":"D","E":7132.8,"mu":0.966},{"g":"o","s":"D","E":7134.1,"mu":1.05},{"g":"o","s":"D","E":7135.4,"mu":1.00},{"g":"o","s":"D","E":7136.7,"mu":0.99},{"g":"o","s":"D","E":7138,"mu":0.947},{"g":"o","s":"D","E":7139.6,"mu":0.985},{"g":"o","s":"D","E":7141.2,"mu":0.84},{"g":"o","s":"D","E":7143.1,"mu":0.89},{"g":"o","s":"D","E":7145.3,"mu":0.815},{"g":"o","s":"D","E":7147.6,"mu":0.917},{"g":"o","s":"D","E":7149.5,"mu":0.766},{"g":"o","s":"D","E":7150.9,"mu":0.89},{"g":"o","s":"D","E":7152.6,"mu":0.86},{"g":"o","s":"D","E":7154.4,"mu":0.771},{"g":"o","s":"D","E":7156.7,"mu":0.966},{"g":"o","s":"D","E":7158,"mu":0.823},{"g":"o","s":"D","E":7160.6,"mu":0.966},{"g":"o","s":"D","E":7161.8,"mu":0.87},{"g":"o","s":"D","E":7163.1,"mu":0.69},{"g":"o","s":"D","E":7165.7,"mu":0.84},{"g":"o","s":"D","E":7167.3,"mu":0.766},{"g":"o","s":"D","E":7168.6,"mu":0.94},{"g":"o","s":"D","E":7169.9,"mu":0.826},{"g":"o","s":"D","E":7171.5,"mu":0.91},{"g":"o","s":"D","E":7173,"mu":0.88},{"g":"o","s":"D","E":7174.4,"mu":0.86},{"g":"o","s":"D","E":7175.7,"mu":0.70},{"g":"o","s":"D","E":7177.4,"mu":0.853},{"g":"o","s":"D","E":7179,"mu":0.955},{"g":"o","s":"D","E":7180.3,"mu":0.996},{"g":"o","s":"D","E":7181.8,"mu":1.07},{"g":"o","s":"D","E":7183.5,"mu":0.99},{"g":"o","s":"D","E":7185.1,"mu":0.94},{"g":"o","s":"D","E":7186.7,"mu":0.834},{"g":"o","s":"D","E":7188.3,"mu":0.88},{"g":"o","s":"D","E":7189.9,"mu":0.996},{"g":"o","s":"D","E":7191.7,"mu":1.00},{"g":"o","s":"D","E":7193.5,"mu":1.01},{"g":"o","s":"D","E":7195.1,"mu":1.015},{"g":"o","s":"D","E":7196.7,"mu":1.00},{"g":"o","s":"D","E":7198.3,"mu":0.966},{"g":"o","s":"D","E":7199.9,"mu":0.80},{"g":"o","s":"D","E":7201.7,"mu":0.81},{"g":"o","s":"D","E":7203.5,"mu":1.07},{"g":"o","s":"D","E":7205.4,"mu":1.01},{"g":"o","s":"D","E":7207.4,"mu":1.12},{"g":"o","s":"D","E":7209,"mu":0.88},{"g":"o","s":"D","E":7210.9,"mu":0.87},{"g":"o","s":"D","E":7212.8,"mu":0.79},{"g":"o","s":"D","E":7214.8,"mu":0.71},{"g":"o","s":"D","E":7216.7,"mu":0.97},{"g":"o","s":"D","E":7218.7,"mu":1.13},{"g":"o","s":"D","E":7220.6,"mu":0.78},{"g":"o","s":"D","E":7222.5,"mu":1.12},{"g":"o","s":"D","E":7224.8,"mu":0.96},{"g":"o","s":"D","E":7226.7,"mu":1.03},{"g":"o","s":"D","E":7228.7,"mu":1.19},{"g":"o","s":"D","E":7231,"mu":1.015},{"g":"o","s":"D","E":7233,"mu":0.86},{"g":"o","s":"D","E":7234.8,"mu":0.99},{"g":"o","s":"D","E":7237.2,"mu":1.10},{"g":"o","s":"D","E":7239.2,"mu":1.03},{"g":"o","s":"D","E":7241.3,"mu":0.83},{"g":"o","s":"D","E":7243.6,"mu":1.015},{"g":"o","s":"D","E":7246,"mu":0.99},{"g":"o","s":"D","E":7248,"mu":0.79},{"g":"o","s":"D","E":7250,"mu":0.86},{"g":"o","s":"D","E":7252.4,"mu":0.86},{"g":"o","s":"D","E":7254.8,"mu":0.815},{"g":"o","s":"D","E":7257.2,"mu":0.99},{"g":"o","s":"D","E":7259.5,"mu":1.07},{"g":"o","s":"D","E":7261.9,"mu":0.947},{"g":"o","s":"D","E":7264.2,"mu":0.86},{"g":"o","s":"D","E":7266.6,"mu":0.89},{"g":"o","s":"D","E":7268.9,"mu":0.977},{"g":"o","s":"D","E":7271,"mu":0.98},{"g":"o","s":"D","E":7273.3,"mu":0.966},{"g":"o","s":"D","E":7276,"mu":1.06},{"g":"o","s":"D","E":7278.6,"mu":0.96},{"g":"o","s":"D","E":7281,"mu":0.97},{"g":"o","s":"D","E":7283.5,"mu":0.97},{"g":"o","s":"D","E":7286,"mu":0.966},{"g":"o","s":"D","E":7288.6,"mu":1.03},{"g":"o","s":"D","E":7291.3,"mu":1.085},{"g":"o","s":"D","E":7293.6,"mu":1.04},{"g":"o","s":"D","E":7296.3,"mu":1.21},{"g":"o","s":"D","E":7299,"mu":0.96}
]},
"layer":[
{"data":{"name":"c"},"transform":[{"filter":"datum.s === 'A' || datum.s === 'B'"}],
"mark":{"type":"line","interpolate":"monotone","clip":true},
"encoding":{
"x":{"field":"E","type":"quantitative","scale":{"domain":[7050,7300],"nice":false,"zero":false},
"axis":{"orient":"bottom","title":"Energy (eV)","titlePadding":-14,"values":[7050,7075,7100,7125,7150,7175,7200,7225,7250,7275,7300],"format":"d","labelExpr":"datum.value % 50 === 0 ? datum.label : ''","tickSize":{"condition":{"test":"datum.value % 50 === 0","value":-30},"value":-15},"labelPadding":43,"labelFlush":false,"labelOverlap":false}},
"y":{"field":"mu","type":"quantitative","scale":{"domain":[-0.41,3.5],"nice":false,"zero":false},
"axis":{"orient":"left","title":"Unit Normalized μ(E)","titlePadding":10,"values":[0,0.5,1,1.5,2,2.5,3],"format":"d","labelExpr":"datum.value % 1 === 0 ? datum.label : ''","tickSize":{"condition":{"test":"datum.value % 1 === 0","value":-29},"value":-14},"labelPadding":45,"labelOverlap":false}},
"color":{"field":"s","type":"nominal","scale":{"domain":["A","B","C","D"],"range":["#ffffff","#c8501f","#a64dbd","#c9bf5f"]},
"legend":{"title":null,"orient":"none","legendX":889,"legendY":741.5,"fillColor":"#030303","strokeColor":"#ffffff","padding":12,"rowPadding":9,"symbolSize":1654,"symbolOffset":17,"labelOffset":32,"labelFont":"Liberation Serif","labelFontSize":41,"labelColor":"#ffffff","labelLimit":0,
"labelExpr":"datum.label === 'A' ? 'Synchrotron data' : datum.label === 'B' ? 'Convoluted by 10 eV' : datum.label === 'C' ? 'σ = 5% edge step' : 'σ = 10% edge step'",
"encode":{"legend":{"update":{"strokeWidth":{"value":4}}},"symbols":{"update":{"shape":{"signal":"datum.value === 'D' ? 'M-1.5,0H1.5M-1.28,0A0.22,0.22,0,1,1,-1.72,0A0.22,0.22,0,1,1,-1.28,0ZM1.72,0A0.22,0.22,0,1,1,1.28,0A0.22,0.22,0,1,1,1.72,0Z' : 'M-1.5,0H1.5'"},"fill":{"signal":"datum.value === 'D' ? '#c9bf5f' : 'transparent'"}}}}}},
"strokeDash":{"field":"s","type":"nominal","scale":{"domain":["A","B","C","D"],"range":[[1,0],[32,15],[22,11,4,11],[1,0]]}},
"strokeWidth":{"field":"s","type":"ordinal","scale":{"domain":["A","B","C","D"],"range":[5.5,5,5,1.5]}},
"detail":{"field":"g"}}},
{"data":{"name":"c"},"transform":[{"filter":"datum.s === 'C' || datum.s === 'D'"}],
"mark":{"type":"line","interpolate":"linear","clip":true},
"encoding":{
"x":{"field":"E","type":"quantitative","axis":null},
"y":{"field":"mu","type":"quantitative","axis":null},
"color":{"field":"s","type":"nominal","legend":null},
"strokeDash":{"field":"s","type":"nominal","legend":null},
"strokeWidth":{"field":"s","type":"ordinal","legend":null},
"detail":{"field":"g"}}},
{"data":{"name":"c"},"transform":[{"filter":"datum.s === 'D'"}],
"mark":{"type":"circle","size":75,"opacity":1,"color":"#c9bf5f","clip":true},
"encoding":{
"x":{"field":"E","type":"quantitative","axis":{"orient":"top","title":null,"labels":false,"values":[7050,7075,7100,7125,7150,7175,7200,7225,7250,7275,7300],"tickSize":{"condition":{"test":"datum.value % 50 === 0","value":-30},"value":-15}}},
"y":{"field":"mu","type":"quantitative","axis":{"orient":"right","title":null,"labels":false,"values":[0,0.5,1,1.5,2,2.5,3],"tickSize":{"condition":{"test":"datum.value % 1 === 0","value":-29},"value":-14}}}}},
{"data":{"name":"lab"},
"mark":{"type":"text","align":"left","baseline":"alphabetic","font":"Liberation Serif","fontSize":62,"color":"#ffffff"},
"encoding":{"x":{"field":"E","type":"quantitative","axis":null},"y":{"field":"mu","type":"quantitative","axis":null},"text":{"field":"t"}}},
{"data":{"name":"edge"},
"mark":{"type":"rule","color":"#2467c4","strokeWidth":6},
"encoding":{"x":{"field":"E","type":"quantitative","axis":null},"x2":{"field":"E2"},"y":{"field":"y","type":"quantitative","axis":null},"y2":{"field":"y2"}}}
],
"resolve":{"axis":{"x":"independent","y":"independent"}}
}
